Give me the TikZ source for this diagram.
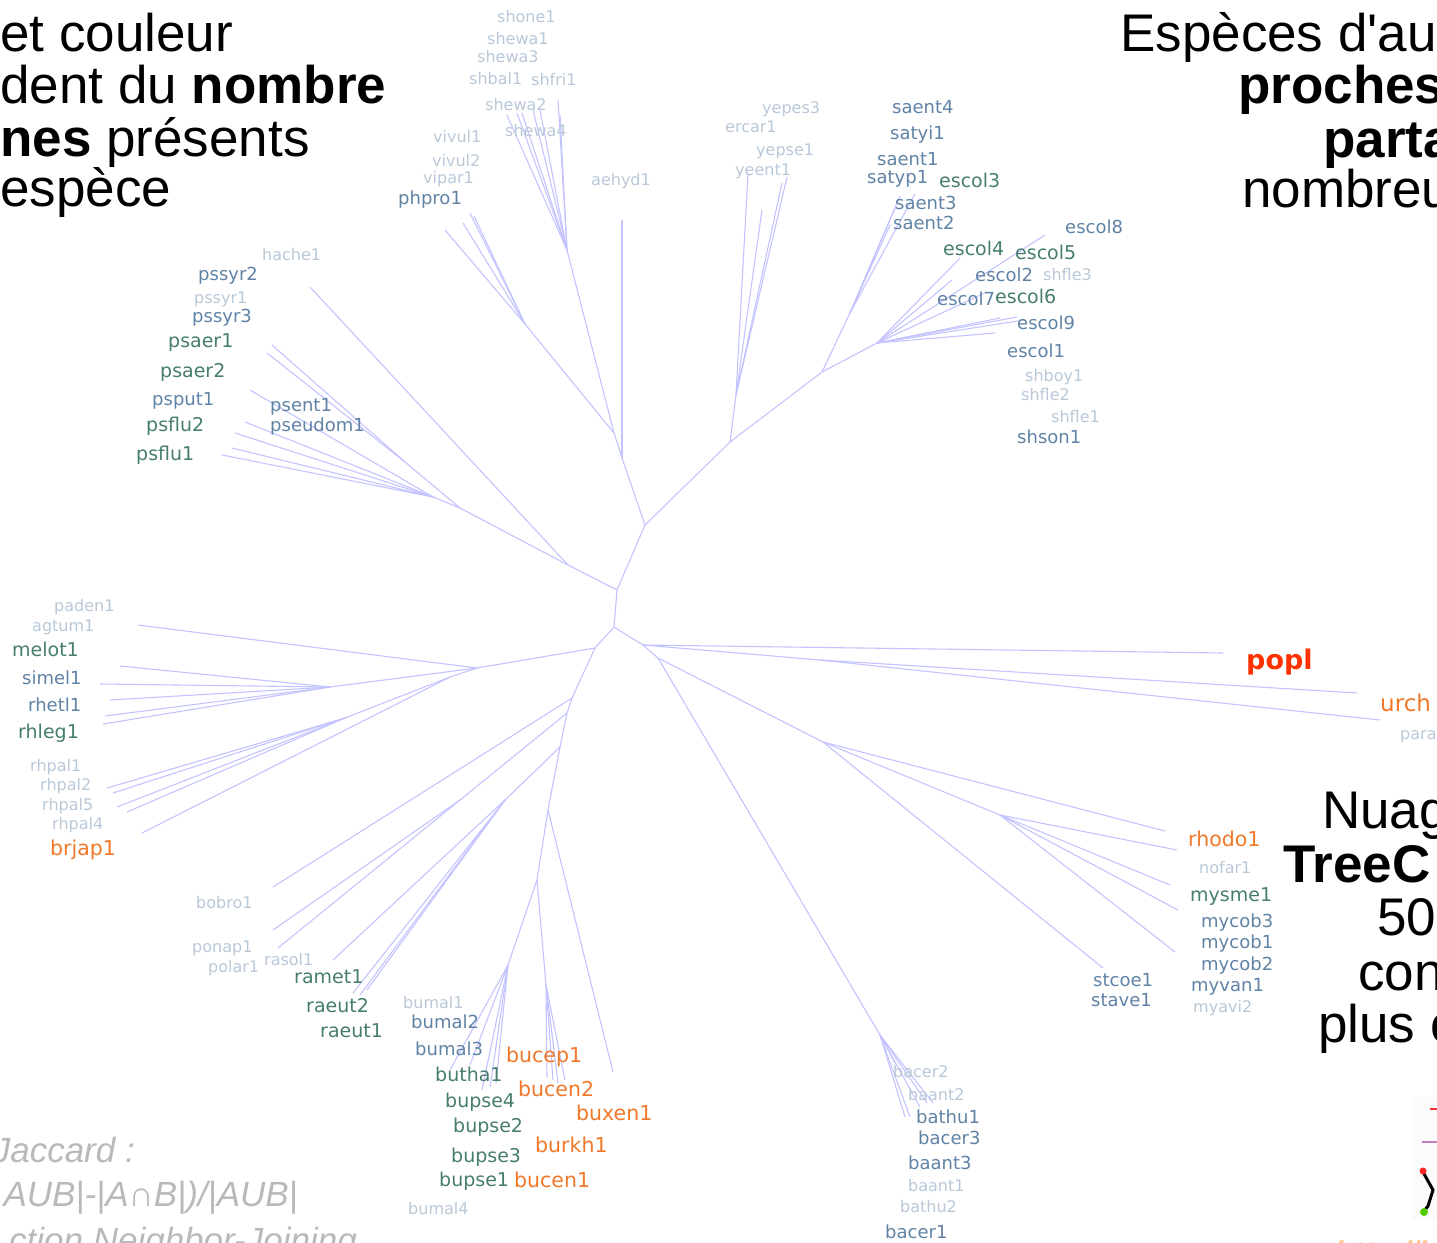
\documentclass[tikz,border=0pt]{standalone}
\usepackage{fontspec}
\setmainfont{Liberation Sans}[Ligatures=TeXOff]
\newfontfamily\labfont{DejaVu Sans}
\definecolor{branch}{RGB}{195,195,255}
\definecolor{labLight}{RGB}{184,200,216}
\definecolor{labSlate}{RGB}{95,130,165}
\definecolor{labTeal}{RGB}{70,125,110}
\definecolor{labOrange}{RGB}{240,120,40}
\definecolor{labRed}{RGB}{255,50,0}
\definecolor{noteGray}{RGB}{185,185,185}
\definecolor{linkOrange}{RGB}{255,195,140}
\newcommand\leafto[3]{\coordinate (#2) at (#3); \draw[br] (#1) -- (#2);}
\begin{document}
\begin{tikzpicture}[x=1pt,y=-1pt,
  br/.style={draw=branch,line width=1.1pt},
  lab/.style={inner sep=0pt,anchor=west},
  lt/.style={lab,text=labLight,font=\labfont\fontsize{16}{16}\selectfont},
  sl/.style={lab,text=labSlate,font=\labfont\fontsize{18}{18}\selectfont},
  tl/.style={lab,text=labTeal,font=\labfont\fontsize{19}{19}\selectfont},
  og/.style={lab,text=labOrange,font=\labfont\fontsize{20.5}{20.5}\selectfont},
  big/.style={inner sep=0pt,anchor=base west,font=\fontsize{53}{53}\selectfont},
  note/.style={inner sep=0pt,anchor=base east,text=noteGray,font=\fontsize{35}{35}\selectfont\itshape}]
\useasboundingbox (0,0) rectangle (1437,1242);

% internal nodes of the tree
\coordinate (A) at (617,590);
\coordinate (B) at (614,627);
\coordinate (C) at (645,525);
\coordinate (E) at (568,565);
\coordinate (D) at (622,458);
\coordinate (F) at (614,433);
\coordinate (S) at (567,250);
\coordinate (V) at (525,324);
\coordinate (G) at (730,442);
\coordinate (Y) at (736,395);
\coordinate (K) at (822,372);
\coordinate (Sa) at (850,313);
\coordinate (Ec) at (877,343);
\coordinate (P) at (460,508);
\coordinate (Pa) at (405,462);
\coordinate (Pb) at (433,497);
\coordinate (H) at (643,645);
\coordinate (Ur) at (820,660);
\coordinate (M0) at (658,658);
\coordinate (Mb) at (823,742);
\coordinate (Mc) at (1000,815);
\coordinate (Bn) at (880,1035);
\coordinate (I) at (595,648);
\coordinate (L) at (477,668);
\coordinate (Rh) at (330,687);
\coordinate (Rq) at (450,677);
\coordinate (Rp) at (345,718);
\coordinate (J1) at (572,698);
\coordinate (J2) at (567,713);
\coordinate (J3) at (560,747);
\coordinate (N1) at (460,800);
\coordinate (N2) at (505,800);
\coordinate (Bu0) at (548,810);
\coordinate (Bu1) at (537,880);
\coordinate (Bm) at (508,965);
\coordinate (Bc) at (546,985);

% inner branches
\foreach \u/\v in {A/B,A/C,A/E,E/P,P/Pa,P/Pb,C/D,D/F,F/S,F/V,C/G,G/Y,G/K,K/Sa,K/Ec,
  B/H,H/Ur,H/M0,M0/Mb,Mb/Mc,M0/Bn,B/I,I/L,L/Rh,L/Rq,Rq/Rp,I/J1,J1/J2,J2/N1,J2/J3,
  J3/N2,J3/Bu0,Bu0/Bu1,Bu1/Bm,Bu1/Bc}
  \draw[br] (\u) -- (\v);

% terminal branches
\leafto{E}{t-hache}{310,287}
\leafto{Pa}{t-pa1}{272,345}
\leafto{Pa}{t-pa2}{267,353}
\leafto{Pb}{t-pb1}{250,390}
\leafto{Pb}{t-pb2}{245,422}
\leafto{Pb}{t-pb3}{235,433}
\leafto{Pb}{t-pb4}{232,448}
\leafto{Pb}{t-pb5}{222,455}
\leafto{S}{t-s1}{507,115}
\leafto{S}{t-s2}{517,113}
\leafto{S}{t-s3}{522,113}
\leafto{S}{t-s4}{533,110}
\leafto{S}{t-s5}{540,110}
\leafto{S}{t-s6}{558,100}
\leafto{S}{t-s7}{560,115}
\leafto{V}{t-v1}{445,230}
\leafto{V}{t-v2}{463,223}
\leafto{V}{t-v3}{470,213}
\leafto{V}{t-v4}{474,216}
\leafto{D}{t-aehyd}{622,220}
\leafto{Y}{t-y1}{748,173}
\leafto{Y}{t-y2}{762,210}
\leafto{Y}{t-y3}{787,177}
\leafto{Y}{t-y4}{782,183}
\leafto{Sa}{t-sa1}{900,196}
\leafto{Sa}{t-sa2}{915,194}
\leafto{Sa}{t-sa3}{895,208}
\leafto{Sa}{t-sa4}{890,225}
\leafto{Ec}{t-e1}{1045,235}
\leafto{Ec}{t-e2}{960,258}
\leafto{Ec}{t-e3}{952,280}
\leafto{Ec}{t-e4}{985,293}
\leafto{Ec}{t-e5}{1017,317}
\leafto{Ec}{t-e6}{1024,320}
\leafto{Ec}{t-e7}{1000,318}
\leafto{Ec}{t-e8}{995,333}
\leafto{H}{t-popl}{1223,653}
\leafto{Ur}{t-urch}{1357,693}
\leafto{Ur}{t-para}{1380,720}
\leafto{Mb}{t-m1}{1165,831}
\leafto{Mb}{t-m2}{1103,968}
\leafto{Mc}{t-m3}{1177,850}
\leafto{Mc}{t-m4}{1170,885}
\leafto{Mc}{t-m5}{1178,910}
\leafto{Mc}{t-m6}{1175,952}
\leafto{Bn}{t-b1}{895,1063}
\leafto{Bn}{t-b2}{905,1117}
\leafto{Bn}{t-b3}{910,1117}
\leafto{Bn}{t-b4}{920,1107}
\leafto{Bn}{t-b5}{927,1103}
\leafto{Bn}{t-b6}{933,1103}
\leafto{L}{t-agtum}{138,625}
\leafto{Rh}{t-r1}{120,666}
\leafto{Rh}{t-r2}{100,684}
\leafto{Rh}{t-r3}{110,700}
\leafto{Rh}{t-r4}{105,716}
\leafto{Rh}{t-r5}{103,724}
\leafto{Rp}{t-rp1}{107,788}
\leafto{Rp}{t-rp2}{113,793}
\leafto{Rp}{t-rp3}{117,807}
\leafto{Rp}{t-rp4}{127,812}
\leafto{Rq}{t-brjap}{142,833}
\leafto{J1}{t-bobro}{273,887}
\leafto{N1}{t-n1}{273,930}
\leafto{N1}{t-n2}{278,948}
\leafto{N2}{t-n3}{333,960}
\leafto{N2}{t-n4}{353,993}
\leafto{N2}{t-n5}{360,995}
\leafto{N2}{t-n6}{367,990}
\leafto{Bu0}{t-buxen}{613,1072}
\leafto{Bm}{t-bm1}{450,1070}
\leafto{Bm}{t-bm2}{470,1065}
\leafto{Bm}{t-bm3}{482,1090}
\leafto{Bm}{t-bm4}{490,1087}
\leafto{Bm}{t-bm5}{496,1083}
\leafto{Bc}{t-bc1}{547,1077}
\leafto{Bc}{t-bc2}{553,1080}
\leafto{Bc}{t-bc3}{558,1083}
\leafto{Bc}{t-bc4}{565,1080}

% species labels
\foreach \nm/\x/\y in {shone1/497/17,shewa1/487/39,shewa3/477/57,shbal1/469/79,
  shfri1/531/80,shewa2/485/105,shewa4/505/131,vivul1/433/137,vivul2/432/161,
  vipar1/423/179,aehyd1/591/181,yepes3/762/109,ercar1/725/127,yepse1/756/151,
  yeent1/735/171,shfle3/1043/275,shboy1/1025/377,shfle2/1021/395,shfle1/1051/417,
  hache1/262/255,pssyr1/194/299,paden1/54/607,agtum1/32/627,rhpal1/30/767,
  rhpal2/40/786,rhpal5/42/806,rhpal4/52/825,bobro1/196/903,ponap1/192/948,
  polar1/208/968,rasol1/264/960,bumal1/403/1003,bumal4/408/1209,bacer2/893/1072,
  baant2/908/1095,baant1/908/1186,bathu2/900/1207,nofar1/1199/868,myavi2/1193/1008,
  para/1400/737}
  \node[lt] (lab-\nm) at (\x,\y) {\nm};
\foreach \nm/\x/\y in {phpro1/398/200,saent4/892/107,satyi1/890/135,saent1/877/159,
  satyp1/867/179,saent3/895/203,saent2/893/223,escol8/1065/227,escol2/975/275,
  escol7/937/299,escol9/1017/323,escol1/1007/351,shson1/1017/437,pssyr2/198/276,
  pssyr3/192/318,psput1/152/401,psent1/270/407,pseudom1/270/427,simel1/22/678,
  rhetl1/28/705,bumal2/411/1022,bumal3/415/1049,bathu1/916/1117,bacer3/918/1138,
  baant3/908/1163,bacer1/885/1232,mycob3/1201/923,mycob1/1201/944,mycob2/1201/966,
  myvan1/1191/987,stcoe1/1093/980,stave1/1091/1000}
  \node[sl] (lab-\nm) at (\x,\y) {\nm};
\foreach \nm/\x/\y in {escol3/939/180,escol4/943/248,escol5/1015/252,escol6/995/296,
  psaer1/168/343,psaer2/160/372,psflu2/146/426,psflu1/136/455,melot1/12/649,
  rhleg1/18/733,ramet1/294/977,raeut2/306/1006,raeut1/320/1031,butha1/435/1074,
  bupse4/445/1102,bupse2/453/1127,bupse3/451/1157,bupse1/439/1181,mysme1/1190/897}
  \node[tl] (lab-\nm) at (\x,\y) {\nm};
\foreach \nm/\x/\y in {brjap1/50/850,bucep1/506/1057,bucen2/518/1089,buxen1/576/1113,
  burkh1/535/1145,bucen1/514/1180,rhodo1/1188/839}
  \node[og] (lab-\nm) at (\x,\y) {\nm};
\node[lab,text=labOrange,font=\labfont\fontsize{23}{23}\selectfont] (lab-urch) at (1380,703) {urch};
\node[lab,text=labRed,font=\labfont\bfseries\fontsize{27}{27}\selectfont] (lab-popl) at (1246,662) {popl};

% captions
\node[big] (cap-l1) at (0,51) {et couleur};
\node[big] (cap-l2) at (0,103) {dent du \textbf{nombre}};
\node[big] (cap-l3) at (0,156) {\textbf{nes} présents};
\node[big] (cap-l4) at (0,206) {espèce};
\node[big] (cap-r1) at (1120,51) {Espèces d'au};
\node[big] (cap-r2) at (1238,103) {\textbf{proches}};
\node[big] (cap-r3) at (1323,157) {\textbf{parta}};
\node[big] (cap-r4) at (1242,207) {nombreu};
\node[big] (cap-b1) at (1322,828) {Nuag};
\node[big] (cap-b2) at (1283,882) {\textbf{TreeC}};
\node[big] (cap-b3) at (1377,935) {50};
\node[big] (cap-b4) at (1358,990) {con};
\node[big] (cap-b5) at (1318,1042) {plus c};
\node[note] (note1) at (135,1162) {Jaccard :};
\node[note] (note2) at (298,1206) {AUB|-|A∩B|)/|AUB|};
\node[note] (note3) at (357,1252) {ction Neighbor-Joining};

% small logo in the corner
\fill[gray!3] (1412,1097) rectangle (1437,1220);
\draw[red!80,line width=2pt] (1430,1109) -- (1437,1109);
\draw[violet!50,line width=2pt] (1422,1142) -- (1437,1142);
\draw[black,line width=3pt,line cap=round] (1423,1172) -- (1433,1190) -- (1428,1206) -- (1424,1211);
\fill[red!85] (1423,1171) circle (3.5);
\fill[green!60!yellow!80!black] (1424,1212) circle (4);
\node[inner sep=0pt,anchor=base west,text=linkOrange,font=\fontsize{30}{30}\selectfont\bfseries\itshape] (link) at (1335,1262) {http://ba};
\end{tikzpicture}
\end{document}
